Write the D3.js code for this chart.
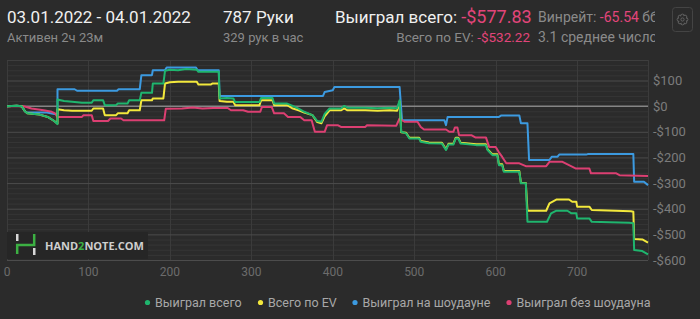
<!DOCTYPE html>
<html>
<head>
<meta charset="utf-8">
<script src="https://cdn.jsdelivr.net/npm/d3@7"></script>
<style>
  body { margin: 0; background: #2b2b2b; overflow: hidden; }
  svg { display: block; font-family: Roboto, "Open Sans", sans-serif; }
</style>
</head>
<body>
<div id="chart"></div>
<script>
const w = 700;
const h = 319;

// [hand, $] breakpoints
const wonTotal = [[0,0],[12,2],[18,0],[22,-20],[25,-28],[40,-33],[50,-42],[58,-58],[62,-70],[62,26],[70,20],[80,17],[92,13],[104,13],[106,23],[118,23],[120,4],[134,4],[136,10],[148,10],[150,23],[163,23],[165,52],[178,52],[179,88],[192,88],[194,138],[200,142],[210,140],[220,145],[233,142],[235,134],[260,134],[261,30],[270,32],[278,30],[280,16],[310,16],[312,32],[326,32],[328,10],[344,10],[350,2],[358,-10],[365,-22],[375,-35],[381,-58],[386,-61],[390,-30],[396,-9],[410,-9],[414,1],[418,-6],[440,-6],[455,-8],[470,-6],[479,-8],[482,23],[484,-100],[490,-106],[494,-126],[506,-126],[508,-139],[518,-145],[534,-146],[539,-171],[542,-150],[548,-150],[551,-126],[554,-126],[557,-146],[576,-152],[588,-152],[590,-171],[596,-191],[602,-191],[604,-230],[608,-230],[610,-256],[629,-256],[631,-301],[637,-301],[639,-451],[663,-451],[668,-418],[674,-408],[688,-408],[693,-418],[699,-418],[700,-438],[715,-438],[718,-451],[740,-453],[764,-455],[769,-457],[770,-561],[780,-565],[787,-578]];

const evTotal = [[0,0],[12,2],[18,0],[22,-20],[25,-28],[40,-33],[50,-42],[58,-58],[62,-68],[62,-12],[70,-16],[80,-18],[104,-18],[106,-9],[118,-9],[120,-35],[134,-35],[136,-28],[148,-28],[150,-16],[163,-16],[165,23],[178,23],[179,30],[192,30],[194,88],[200,93],[210,95],[233,95],[235,84],[250,84],[252,88],[260,88],[261,20],[270,17],[278,17],[280,4],[310,4],[312,23],[326,23],[328,4],[344,4],[350,-8],[358,-16],[365,-25],[375,-35],[381,-62],[386,-67],[390,-40],[396,-16],[410,-16],[414,-9],[418,-16],[440,-16],[455,-18],[470,-16],[479,-18],[482,17],[484,-102],[490,-104],[494,-123],[506,-123],[508,-136],[518,-142],[534,-143],[539,-168],[542,-147],[548,-147],[551,-123],[554,-123],[557,-143],[576,-149],[588,-149],[590,-168],[596,-188],[602,-188],[604,-227],[608,-227],[610,-253],[629,-253],[631,-300],[637,-300],[639,-408],[662,-408],[666,-379],[675,-364],[690,-364],[694,-373],[699,-373],[700,-392],[715,-392],[718,-405],[766,-410],[769,-412],[770,-518],[780,-520],[787,-532]];

const wonShowdown = [[0,0],[12,2],[18,0],[22,-20],[24,-25],[49,-25],[58,-31],[62,-31],[62,66],[83,66],[86,60],[135,60],[137,66],[163,66],[165,121],[178,121],[179,140],[194,140],[196,151],[232,151],[234,140],[260,140],[261,40],[388,40],[390,55],[400,62],[402,75],[482,75],[485,-55],[537,-55],[539,-74],[541,-42],[604,-42],[607,-36],[629,-36],[631,-67],[639,-67],[641,-210],[666,-210],[669,-197],[676,-197],[678,-189],[711,-189],[713,-187],[769,-187],[770,-295],[782,-295],[787,-308]];

const wonNoShowdown = [[0,0],[20,0],[24,-3],[30,-9],[45,-16],[55,-22],[59,-28],[62,-42],[92,-42],[94,-35],[104,-35],[106,-58],[124,-58],[127,-48],[140,-48],[143,-55],[193,-55],[195,-10],[215,-9],[228,-5],[240,-9],[253,-7],[271,-7],[275,-16],[290,-16],[296,-22],[311,-22],[313,-3],[325,-3],[328,-28],[340,-28],[345,-42],[360,-42],[365,-55],[374,-55],[378,-100],[390,-100],[393,-74],[406,-74],[410,-81],[440,-81],[442,-74],[478,-76],[482,-48],[488,-61],[504,-61],[508,-81],[512,-91],[539,-91],[543,-100],[548,-100],[550,-83],[553,-83],[555,-113],[570,-113],[575,-122],[588,-122],[592,-159],[600,-159],[604,-180],[608,-198],[613,-223],[629,-223],[637,-234],[662,-234],[666,-217],[682,-217],[690,-230],[698,-243],[715,-243],[717,-262],[748,-262],[752,-269],[787,-272]];

const seriesNames = ["Выиграл всего", "Всего по EV", "Выиграл на шоудауне", "Выиграл без шоудауна"];
const seriesColors = ["#1fb56e", "#f2e83c", "#3c9ae0", "#dc3f72"];
const xTicks = [0, 100, 200, 300, 400, 500, 600, 700];
const yTicks = [100, 0, -100, -200, -300, -400, -500, -600];

const svg = d3.select("#chart").append("svg").attr("width", w).attr("height", h);

// header
const head = svg.append("g");
head.append("text").attr("x", 7).attr("y", 23).attr("fill", "#f0f0f0").attr("font-size", 17)
  .text("03.01.2022 - 04.01.2022");
head.append("text").attr("x", 7).attr("y", 42).attr("fill", "#8a8a8a").attr("font-size", 13)
  .text("Активен 2ч 23м");
head.append("text").attr("x", 223).attr("y", 23).attr("fill", "#f0f0f0").attr("font-size", 17)
  .text("787 Руки");
head.append("text").attr("x", 223).attr("y", 42).attr("fill", "#8a8a8a").attr("font-size", 13)
  .text("329 рук в час");

const won = head.append("text").attr("x", 335).attr("y", 23).attr("font-size", 17);
won.append("tspan").attr("fill", "#f0f0f0").text("Выиграл всего: ");
won.append("tspan").attr("fill", "#e2457a").attr("font-size", 18).text("-$577.83");

const ev = head.append("text").attr("x", 530).attr("y", 42).attr("font-size", 13.5).attr("text-anchor", "end");
ev.append("tspan").attr("fill", "#8a8a8a").text("Всего по EV: ");
ev.append("tspan").attr("fill", "#e2457a").text("-$532.22");

// the right-hand stats are cut off by their box, as in the original
svg.append("clipPath").attr("id", "hclip").append("rect")
  .attr("x", 536).attr("y", 0).attr("width", 119).attr("height", 50);
const right = head.append("g").attr("clip-path", "url(#hclip)");
const wr = right.append("text").attr("x", 538).attr("y", 22).attr("font-size", 14);
wr.append("tspan").attr("fill", "#8a8a8a").text("Винрейт: ");
wr.append("tspan").attr("fill", "#e2457a").text("-65.54");
wr.append("tspan").attr("fill", "#8a8a8a").text(" бб/100");
right.append("text").attr("x", 538).attr("y", 42).attr("font-size", 14).attr("fill", "#8a8a8a")
  .text("3.1 среднее число соперников");

// gear button
const gear = svg.append("g");
gear.append("rect").attr("x", 672.5).attr("y", 7.5).attr("width", 20).attr("height", 24).attr("rx", 3)
  .attr("fill", "none").attr("stroke", "#444");
d3.range(8).forEach((i) => {
  const a = (i * Math.PI) / 4;
  gear.append("circle").attr("cx", 682.5 + 3.6 * Math.cos(a)).attr("cy", 19.5 + 3.6 * Math.sin(a))
    .attr("r", 1.8).attr("fill", "#2b2b2b").attr("stroke", "#666").attr("stroke-width", 0.9);
});
gear.append("circle").attr("cx", 682.5).attr("cy", 19.5).attr("r", 3.6).attr("fill", "#2b2b2b");
gear.append("circle").attr("cx", 682.5).attr("cy", 19.5).attr("r", 1.6).attr("fill", "none")
  .attr("stroke", "#666").attr("stroke-width", 0.9);

// scales
const xScale = d3.scaleLinear().domain([0, 787]).range([7, 648]);
const yScale = d3.scaleLinear().domain([-600, 180]).range([260, 60]);

// grid
const grid = svg.append("g");
grid.selectAll("line.minor")
  .data(d3.range(-600, 181, 20).filter((v) => v % 100 !== 0))
  .enter().append("line")
  .attr("x1", 7).attr("x2", 648)
  .attr("y1", (d) => yScale(d) + 0.5).attr("y2", (d) => yScale(d) + 0.5)
  .attr("stroke", "#363636");
grid.selectAll("line.vert")
  .data(xTicks.concat([787]))
  .enter().append("line")
  .attr("x1", (d) => Math.round(xScale(d)) + 0.5).attr("x2", (d) => Math.round(xScale(d)) + 0.5)
  .attr("y1", 60).attr("y2", 260)
  .attr("stroke", "#3b3b3b");
grid.selectAll("line.major")
  .data(yTicks.filter((v) => v !== 0))
  .enter().append("line")
  .attr("x1", 7).attr("x2", 648)
  .attr("y1", (d) => yScale(d) + 0.5).attr("y2", (d) => yScale(d) + 0.5)
  .attr("stroke", "#4c4c4c");
grid.append("line").attr("x1", 7).attr("x2", 648)
  .attr("y1", yScale(180) + 0.5).attr("y2", yScale(180) + 0.5).attr("stroke", "#3e3e3e");
grid.append("line").attr("x1", 7).attr("x2", 648)
  .attr("y1", yScale(0)).attr("y2", yScale(0))
  .attr("stroke", "#858585").attr("stroke-width", 1.5);

// watermark
const wm = svg.append("g");
wm.append("rect").attr("x", 7).attr("y", 232).attr("width", 141).attr("height", 27).attr("fill", "#262626");
wm.append("rect").attr("x", 16).attr("y", 234).attr("width", 2.5).attr("height", 7).attr("fill", "#d8d8d8");
wm.append("rect").attr("x", 33).attr("y", 248).attr("width", 2.5).attr("height", 7).attr("fill", "#d8d8d8");
wm.append("path").attr("d", "M17.2,254 V245 H34.2 V234").attr("fill", "none")
  .attr("stroke", "#3cb043").attr("stroke-width", 2.5);
const wmt = wm.append("text").attr("x", 45).attr("y", 249.5).attr("font-size", 11)
  .attr("font-weight", "bold").attr("fill", "#cfcfcf").attr("font-family", "'Open Sans', Roboto, sans-serif");
wmt.append("tspan").text("HAND");
wmt.append("tspan").attr("fill", "#3cb043").text("2");
wmt.append("tspan").text("NOTE.COM");

// axes labels
svg.append("g").selectAll("text")
  .data(xTicks).enter().append("text")
  .attr("x", (d) => xScale(d)).attr("y", 276)
  .attr("text-anchor", "middle").attr("font-size", 12).attr("fill", "#6c6c6c")
  .text((d) => d);
svg.append("g").selectAll("text")
  .data(yTicks).enter().append("text")
  .attr("x", 653).attr("y", (d) => yScale(d) + 4.5)
  .attr("font-size", 13).attr("fill", "#7c7c7c")
  .text((d) => (d < 0 ? "-$" + Math.abs(d) : "$" + d));

// lines
const line = d3.line().x((d) => xScale(d[0])).y((d) => yScale(d[1]));
const seriesData = [wonTotal, evTotal, wonShowdown, wonNoShowdown];
[2, 3, 1, 0].forEach((i) => {
  svg.append("path").datum(seriesData[i])
    .attr("d", line)
    .attr("fill", "none")
    .attr("stroke", seriesColors[i])
    .attr("stroke-width", 2)
    .attr("stroke-linejoin", "round");
});

// legend
const legendX = [147.5, 260.5, 355, 509];
const legend = svg.append("g");
seriesNames.forEach((name, i) => {
  legend.append("circle").attr("cx", legendX[i]).attr("cy", 302.5).attr("r", 2.6).attr("fill", seriesColors[i]);
  legend.append("text").attr("x", legendX[i] + 7.5).attr("y", 307).attr("font-size", 12.5)
    .attr("fill", "#a8a8a8").text(name);
});
</script>
</body>
</html>
